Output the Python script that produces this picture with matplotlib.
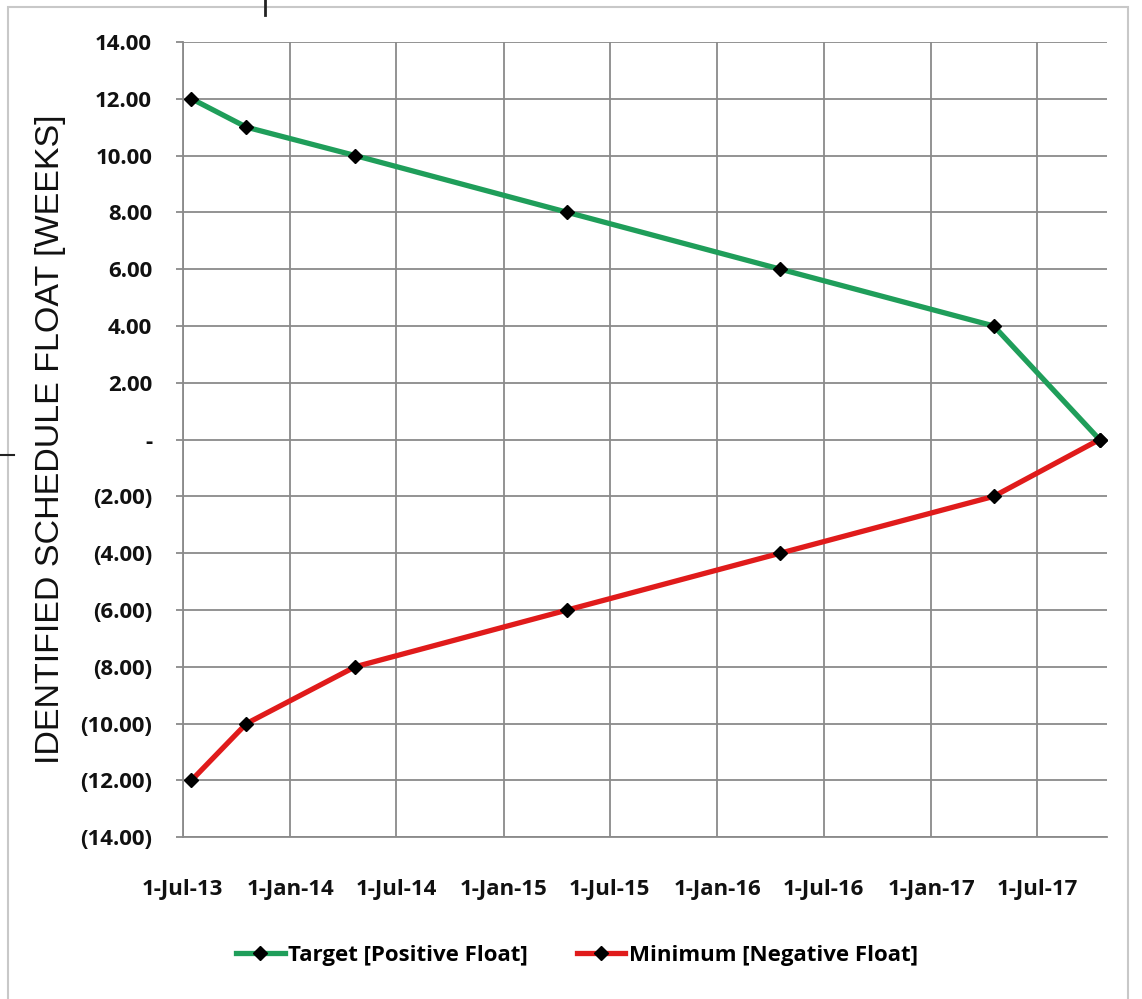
import matplotlib
matplotlib.use("Agg")
import matplotlib.pyplot as plt
import matplotlib.dates as mdates
from matplotlib.ticker import FuncFormatter, FixedLocator
from matplotlib.lines import Line2D
from matplotlib.patches import Rectangle
import numpy as np
import datetime as dt

# data
dates = ["2013-07-16", "2013-10-18", "2014-04-22", "2015-04-20",
         "2016-04-18", "2017-04-18", "2017-10-16"]
target = [12.0, 11.0, 10.0, 8.0, 6.0, 4.0, 0.0]
minimum = [-12.0, -10.0, -8.0, -6.0, -4.0, -2.0, 0.0]
tick_dates = ["2013-07-01", "2014-01-01", "2014-07-01", "2015-01-01", "2015-07-01",
              "2016-01-01", "2016-07-01", "2017-01-01", "2017-07-01"]

x = [dt.datetime.strptime(d, "%Y-%m-%d") for d in dates]
xt = [dt.datetime.strptime(d, "%Y-%m-%d") for d in tick_dates]

tick_font = ['Open Sans', 'DejaVu Sans']

def acct(v, pos):
	if abs(v) < 1e-9:
		return "-"
	if v < 0:
		return "(%.2f)" % abs(v)
	return "%.2f" % v

fig = plt.figure(figsize=(11.42, 9.99), dpi=100)
ax = fig.add_axes([0.160, 0.162, 0.809, 0.796])

green = "#1f9e5a"
red = "#e01b1b"
ax.plot(x, target, color=green, lw=3.8, marker="D", ms=7, mfc="black", mec="black",
        label="Target [Positive Float]", zorder=3)
ax.plot(x, minimum, color=red, lw=3.8, marker="D", ms=7, mfc="black", mec="black",
        label="Minimum [Negative Float]", zorder=3)

ax.set_ylim(-14, 14)
ax.yaxis.set_major_locator(FixedLocator(np.arange(-14, 15, 2)))
ax.yaxis.set_major_formatter(FuncFormatter(acct))
ax.set_xlim(dt.datetime(2013, 7, 1), dt.datetime(2017, 10, 28))
ax.set_xticks(xt)
ax.xaxis.set_major_formatter(FuncFormatter(
	lambda v, p: "%d-%s" % (mdates.num2date(v).day, mdates.num2date(v).strftime("%b-%y"))))

ax.grid(True, color="#8a8a8a", lw=1.3)
ax.set_axisbelow(True)
for s in ax.spines.values():
	s.set_visible(False)
for side in ["left", "bottom"]:
	ax.spines[side].set_visible(True)
	ax.spines[side].set_color("#8a8a8a")
	ax.spines[side].set_linewidth(1.3)
ax.tick_params(axis="y", length=5, width=1.3, color="#8a8a8a", pad=17)
ax.tick_params(axis="x", length=0, pad=30)

for lab in ax.get_yticklabels() + ax.get_xticklabels():
	lab.set_fontfamily(tick_font)
	lab.set_fontweight("bold")
	lab.set_fontsize(16)
	lab.set_color("#111111")

ax.set_ylabel("IDENTIFIED SCHEDULE FLOAT [WEEKS]", fontsize=24.5, family="Liberation Sans",
              color="#111111", labelpad=10)

leg = fig.legend(loc="center", bbox_to_anchor=(0.505, 0.044), ncol=2, frameon=False,
                 handlelength=2.2, handletextpad=0.15, columnspacing=2.2,
                 prop={"family": tick_font, "weight": "bold", "size": 16})

# outer chart border and stray screenshot edges
fig.add_artist(Rectangle((0.007, -0.01), 0.981, 1.003, transform=fig.transFigure,
                         fill=False, ec="#c8c8c8", lw=1.5))
fig.add_artist(Line2D([0.232, 0.232], [0.985, 1.0], transform=fig.transFigure, color="#222222", lw=2))
fig.add_artist(Line2D([0.0, 0.012], [0.545, 0.545], transform=fig.transFigure, color="#222222", lw=1.5))

fig.savefig("out.png", dpi=100)
